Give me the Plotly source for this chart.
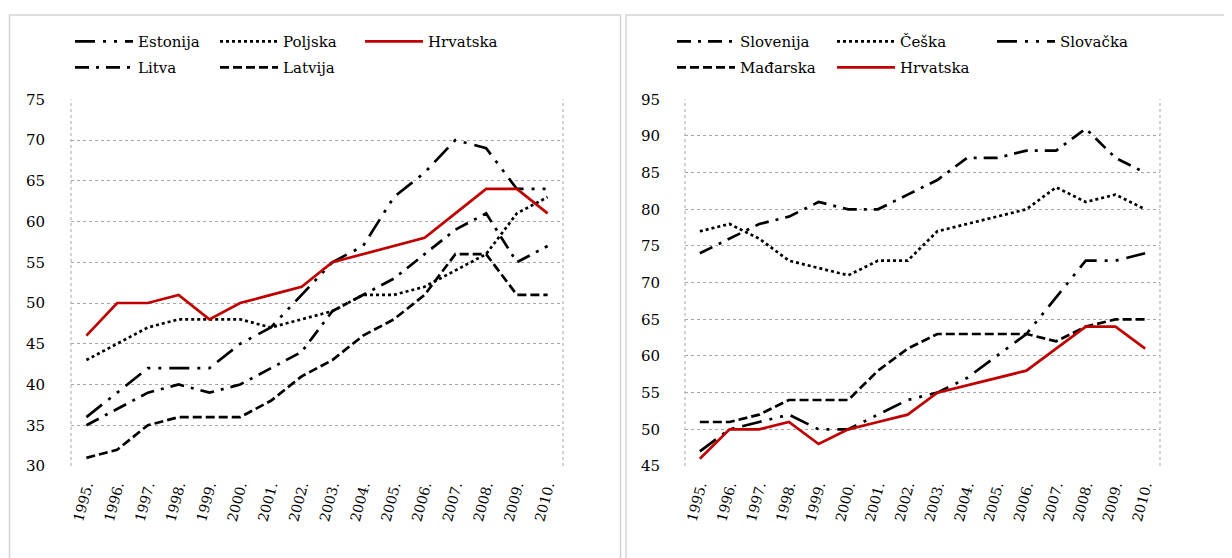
import plotly.graph_objects as go

# Sample data
years = ["1995.", "1996.", "1997.", "1998.", "1999.", "2000.", "2001.", "2002.",
         "2003.", "2004.", "2005.", "2006.", "2007.", "2008.", "2009.", "2010."]

hrvatska = [46, 50, 50, 51, 48, 50, 51, 52, 55, 56, 57, 58, 61, 64, 64, 61]

# left panel
estonija = [36, 39, 42, 42, 42, 45, 47, 51, 55, 57, 63, 66, 70, 69, 64, 64]
poljska = [43, 45, 47, 48, 48, 48, 47, 48, 49, 51, 51, 52, 54, 56, 61, 63]
litva = [35, 37, 39, 40, 39, 40, 42, 44, 49, 51, 53, 56, 59, 61, 55, 57]
latvija = [31, 32, 35, 36, 36, 36, 38, 41, 43, 46, 48, 51, 56, 56, 51, 51]

# right panel
slovenija = [74, 76, 78, 79, 81, 80, 80, 82, 84, 87, 87, 88, 88, 91, 87, 85]
ceska = [77, 78, 76, 73, 72, 71, 73, 73, 77, 78, 79, 80, 83, 81, 82, 80]
slovacka = [47, 50, 51, 52, 50, 50, 52, 54, 55, 57, 60, 63, 68, 73, 73, 74]
madarska = [51, 51, 52, 54, 54, 54, 58, 61, 63, 63, 63, 63, 62, 64, 65, 65]

W, H = 1232, 558
OFF = 8  # page body margin
RED = "#C00000"
LDD = "20px,8px,3px,8px,3px,8px"   # long dash, dot, dot
DD = "14px,7px,3px,7px"            # dash dot
DOT = "3px,3px"
DASH = "9px,4px"
LW = 2.7
SERIF = "DejaVu Serif"


def px(x):
    return (x - OFF) / W


def py(y):
    return 1 - (y - OFF) / H


fig = go.Figure()


def add(y, name, dash, color, xa, ya, legend):
    fig.add_trace(go.Scatter(x=years, y=y, name=name, mode="lines",
                             line=dict(color=color, width=LW, dash=dash),
                             xaxis=xa, yaxis=ya, legend=legend))


# left chart
add(estonija, "Estonija", LDD, "black", "x", "y", "legend")
add(poljska, "Poljska", DOT, "black", "x", "y", "legend")
add(hrvatska, "Hrvatska", "solid", RED, "x", "y", "legend")
add(litva, "Litva", DD, "black", "x", "y", "legend2")
add(latvija, "Latvija", DASH, "black", "x", "y", "legend2")

# right chart
add(slovenija, "Slovenija", DD, "black", "x2", "y2", "legend3")
add(ceska, "Češka", DOT, "black", "x2", "y2", "legend3")
add(slovacka, "Slovačka", LDD, "black", "x2", "y2", "legend3")
add(madarska, "Mađarska", DASH, "black", "x2", "y2", "legend4")
add(hrvatska, "Hrvatska", "solid", RED, "x2", "y2", "legend4")

xax = dict(type="category", range=[-0.5, 15.5], showgrid=False, zeroline=False,
           showline=False, ticks="", tickangle=-75, automargin=False,
           ticklabelstandoff=8,
           tickfont=dict(family=SERIF, size=14, color="black"))
yax = dict(dtick=5, showgrid=True, gridcolor="#a6a6a6", griddash="dot",
           gridwidth=1, zeroline=False, showline=False, ticks="",
           automargin=False,
           tickfont=dict(family=SERIF, size=15, color="black"))

leg = dict(orientation="h", xanchor="left", yanchor="middle", itemwidth=58,
           bgcolor="rgba(0,0,0,0)", traceorder="normal", itemclick=False,
           font=dict(family=SERIF, size=15, color="black"))

fig.update_layout(
    width=W, height=H,
    margin=dict(l=0, r=0, t=0, b=0, autoexpand=False),
    paper_bgcolor="white", plot_bgcolor="white",
    font=dict(family=SERIF, size=15, color="black"),
    xaxis=dict(xax, domain=[px(71), px(563)], anchor="y"),
    yaxis=dict(yax, domain=[py(466), py(99.3)], range=[30, 75], anchor="x",
               ticklabelstandoff=25),
    xaxis2=dict(xax, domain=[px(685), px(1160)], anchor="y2"),
    yaxis2=dict(yax, domain=[py(466), py(99.3)], range=[45, 95], anchor="x2",
                ticklabelstandoff=24),
    legend=dict(leg, x=px(70), y=py(41.7), entrywidth=72),
    legend2=dict(leg, x=px(70), y=py(67.7), entrywidth=72),
    legend3=dict(leg, x=px(672), y=py(41.7), entrywidth=87),
    legend4=dict(leg, x=px(672), y=py(67.7), entrywidth=87),
    showlegend=True,
)

# panel frames
frame = dict(type="rect", xref="paper", yref="paper",
             line=dict(color="#d4d4d4", width=1.5), fillcolor="rgba(0,0,0,0)")
fig.add_shape(frame, x0=px(9.5), x1=px(620.5), y0=-0.05, y1=py(15))
fig.add_shape(frame, x0=px(626), x1=1.05, y0=-0.05, y1=py(15))

# dotted sides of the plot areas
for xr, yr in (("x domain", "y domain"), ("x2 domain", "y2 domain")):
    for xv in (0, 1):
        fig.add_shape(type="line", xref=xr, yref=yr, x0=xv, x1=xv, y0=0, y1=1,
                      line=dict(color="#a6a6a6", width=1, dash="dot"))

fig.write_html("out.html")
